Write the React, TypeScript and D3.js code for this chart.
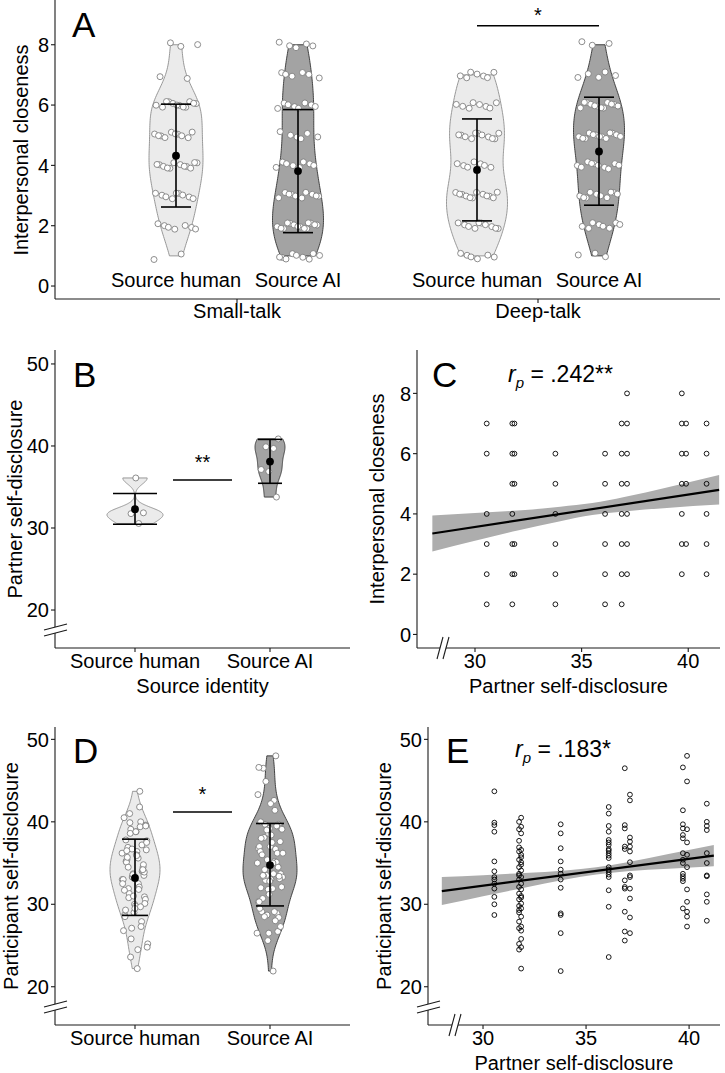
import React from "react";
import * as d3 from "d3";

const FONT = "'Liberation Sans', Arial, Helvetica, sans-serif";
const FS = 20;
const LIGHT_FILL = "#ebebeb";
const LIGHT_STROKE = "#8d8d8d";
const DARK_FILL = "#a3a3a3";
const DARK_STROKE = "#333333";
const POINT_STROKE = "#7a7a7a";

// ---- Panel A: interpersonal closeness (1-8), counts per level ----
const groups = ["Small-talk", "Deep-talk"];
const sources = ["Source human", "Source AI"];
const levels = [1, 2, 3, 4, 5, 6, 7, 8];
const smallHumanCounts = [2, 7, 9, 12, 10, 12, 2, 3];
const smallAICounts = [9, 14, 10, 8, 6, 8, 6, 5];
const deepHumanCounts = [6, 10, 12, 7, 11, 8, 7, 0];
const deepAICounts = [3, 8, 10, 10, 13, 12, 5, 3];
const aMeans = [4.32, 3.81, 3.85, 4.46];
const aLow = [2.62, 1.77, 2.16, 2.68];
const aHigh = [6.03, 5.85, 5.54, 6.26];
const aTicks = [0, 2, 4, 6, 8];
const aSigValue = 8.63;

// ---- Partners (B, C, E) ----
const partnerScores = [30.55, 31.75, 31.85, 33.77, 36.1, 36.88, 37.13, 39.7, 39.9, 40.86];
const partnerIsAI = [false, false, false, true, false, true, true, true, true, true];
const bMeans = [32.3, 38.1];
const bLow = [30.45, 35.45];
const bHigh = [34.2, 40.8];
const bSigValue = 35.85;
const sdTicks = [20, 30, 40, 50];

// ---- Panel C: closeness per partner ----
const closenessByPartner = [
  [7, 6, 4, 3, 2, 1],
  [7, 6, 5, 4, 3, 2, 1],
  [7, 6, 5, 3, 2],
  [6, 5, 4, 3, 2, 1],
  [6, 5, 4, 3, 2, 1],
  [7, 6, 5, 4, 3, 2, 1],
  [8, 7, 6, 5, 4, 3, 2],
  [8, 7, 6, 5, 4, 3, 2],
  [7, 6, 5, 3],
  [7, 6, 5, 4, 3, 2],
];
const cTicksY = [0, 2, 4, 6, 8];
const partnerTicks = [30, 35, 40];
const cBandX = [28, 30, 32, 34, 35.5, 37, 39, 41.45];
const cBandLo = [2.75, 3.11, 3.45, 3.76, 3.96, 4.08, 4.2, 4.31];
const cBandHi = [3.95, 4.03, 4.11, 4.24, 4.36, 4.56, 4.88, 5.29];
const cFitX = [28, 41.45];
const cFitY = [3.35, 4.8];

// ---- Panel E / D: participant self-disclosure per partner ----
const participantByPartner = [
  [43.7, 39.9, 39.6, 38.8, 35.2, 34.0, 33.3, 33.0, 32.5, 31.9, 30.9, 30.0, 28.7],
  [40.0, 39.1, 37.7, 36.4, 35.4, 34.5, 33.7, 33.0, 32.1, 31.3, 30.6, 29.8, 29.3, 27.9, 27.1, 25.2, 24.5, 36.9, 33.5, 29.0],
  [40.5, 39.4, 38.6, 36.6, 36.0, 35.1, 34.1, 33.3, 32.5, 31.8, 30.8, 30.1, 29.5, 28.5, 27.3, 25.8, 24.8, 22.2, 35.7, 34.8, 31.0, 26.8],
  [39.7, 38.6, 36.8, 35.2, 34.2, 33.7, 33.0, 32.0, 28.9, 28.7, 26.5, 21.9],
  [41.8, 41.0, 39.5, 38.8, 37.8, 37.2, 36.7, 36.2, 35.6, 34.5, 33.9, 33.3, 31.7, 29.7, 23.6, 37.5, 35.9, 36.5, 34.2, 33.6],
  [46.5, 39.6, 39.2, 37.0, 36.7, 32.9, 32.1, 31.9, 29.1, 26.7, 25.6],
  [43.3, 42.6, 38.1, 37.6, 37.0, 36.4, 35.1, 33.5, 33.3, 31.9, 30.7, 28.4, 26.5],
  [46.6, 41.4, 39.7, 39.2, 38.4, 38.0, 36.2, 35.4, 35.0, 33.7, 33.4, 33.1, 32.8, 29.5],
  [48.0, 44.9, 39.1, 37.5, 36.0, 34.5, 31.8, 30.3, 29.1, 28.5, 27.3],
  [42.2, 40.0, 39.5, 39.0, 36.2, 35.0, 33.5, 33.4, 31.2, 30.3, 28.0],
];
const dMeans = [33.2, 34.75];
const dLow = [28.65, 29.8];
const dHigh = [37.9, 39.8];
const dSigValue = 41.2;
const eBandX = [28, 30, 32, 34, 35.5, 37, 39, 41.2];
const eBandLo = [29.9, 30.97, 32.0, 33.0, 33.6, 34.0, 34.3, 34.6];
const eBandHi = [33.3, 33.53, 33.8, 34.1, 34.5, 35.1, 36.1, 37.2];
const eFitX = [28, 41.2];
const eFitY = [31.6, 35.9];

// deterministic jitter (layout only)
const jx = (i: number, seed: number) => ((i * 0.6180339887 + seed * 0.137) % 1) - 0.5;
const jy = (i: number, seed: number) => ((i * 0.7548776662 + seed * 0.291) % 1) - 0.5;

function bwNrd0(v: number[]) {
  const s = d3.deviation(v) ?? 1;
  const sorted = [...v].sort(d3.ascending);
  const iqr = (d3.quantileSorted(sorted, 0.75) as number) - (d3.quantileSorted(sorted, 0.25) as number);
  let lo = Math.min(s, iqr / 1.34);
  if (!(lo > 0)) lo = s || 1;
  return 0.9 * lo * Math.pow(v.length, -0.2);
}

function kde(v: number[], n = 120) {
  const bw = bwNrd0(v);
  const [lo, hi] = d3.extent(v) as [number, number];
  return d3.range(n + 1).map((i) => {
    const y = lo + ((hi - lo) * i) / n;
    const d =
      (d3.mean(v, (x) => Math.exp(-0.5 * ((y - x) / bw) ** 2)) as number) /
      (bw * Math.sqrt(2 * Math.PI));
    return { y, d };
  });
}

type Dens = { y: number; d: number };

// each violin scaled to its own maximum half-width
function violinPath(dens: Dens[], cx: number, y: d3.ScaleLinear<number, number>, half: number) {
  const w = d3.scaleLinear().domain([0, d3.max(dens, (p) => p.d) as number]).range([0, half]);
  return (
    d3
      .area<Dens>()
      .x0((p) => cx - w(p.d))
      .x1((p) => cx + w(p.d))
      .y((p) => y(p.y))(dens) || ""
  );
}

const txt = { fontFamily: FONT, fill: "#000" } as const;

function YAxis({ x, scale, ticks, top, bottom }: any) {
  return (
    <g>
      <line x1={x} x2={x} y1={top} y2={bottom} stroke="#1a1a1a" strokeWidth={1.1} />
      {ticks.map((t: number) => (
        <g key={t}>
          <line x1={x - 4} x2={x} y1={scale(t)} y2={scale(t)} stroke="#1a1a1a" strokeWidth={1.1} />
          <text x={x - 6} y={scale(t)} dy="0.36em" textAnchor="end" fontSize={FS} style={txt}>
            {t}
          </text>
        </g>
      ))}
    </g>
  );
}

function YBreak({ x, y }: { x: number; y: number }) {
  return (
    <g>
      <polygon points={`${x - 11},${y + 1} ${x + 12},${y - 5} ${x + 12},${y + 1} ${x - 11},${y + 7}`} fill="#fff" />
      <line x1={x - 11} y1={y + 1} x2={x + 12} y2={y - 5} stroke="#1a1a1a" strokeWidth={1.1} />
      <line x1={x - 11} y1={y + 7} x2={x + 12} y2={y + 1} stroke="#1a1a1a" strokeWidth={1.1} />
    </g>
  );
}

function XBreak({ x, y }: { x: number; y: number }) {
  return (
    <g>
      <polygon points={`${x - 6},${y + 11} ${x},${y - 11} ${x + 6},${y - 11} ${x},${y + 11}`} fill="#fff" />
      <line x1={x - 6} y1={y + 11} x2={x} y2={y - 11} stroke="#1a1a1a" strokeWidth={1.1} />
      <line x1={x} y1={y + 11} x2={x + 6} y2={y - 11} stroke="#1a1a1a" strokeWidth={1.1} />
    </g>
  );
}

function ErrorBar({ cx, lo, hi, mean, cap, y, r = 3.9 }: any) {
  return (
    <g>
      <line x1={cx} x2={cx} y1={y(lo)} y2={y(hi)} stroke="#000" strokeWidth={1.6} />
      <line x1={cx - cap} x2={cx + cap} y1={y(lo)} y2={y(lo)} stroke="#000" strokeWidth={1.6} />
      <line x1={cx - cap} x2={cx + cap} y1={y(hi)} y2={y(hi)} stroke="#000" strokeWidth={1.6} />
      <circle cx={cx} cy={y(mean)} r={r} fill="#000" />
    </g>
  );
}

function Letter({ x, y, children }: any) {
  return (
    <text x={x} y={y} fontSize={35} style={txt}>
      {children}
    </text>
  );
}

function RpLabel({ x, y, value }: any) {
  return (
    <text x={x} y={y} fontSize={23} style={txt}>
      <tspan fontStyle="italic">r</tspan>
      <tspan fontStyle="italic" fontSize={15} dy={6}>
        p
      </tspan>
      <tspan dy={-6}>{` = ${value}`}</tspan>
    </text>
  );
}

function PanelA() {
  const y = d3.scaleLinear().domain([-0.43, 9.45]).range([299, 1]);
  const groupX = d3.scalePoint<string>().domain(groups).range([237, 538]);
  const subX = d3.scalePoint<string>().domain(sources).range([-61, 61]);
  const halves = [27, 25.5, 30.5, 25.5];
  const countSets = [smallHumanCounts, smallAICounts, deepHumanCounts, deepAICounts];
  const violins = countSets.map((counts, k) => {
    const g = groups[Math.floor(k / 2)];
    const s = sources[k % 2];
    const values = levels.flatMap((lv, i) => d3.range(counts[i]).map(() => lv));
    return { k, g, s, cx: (groupX(g) as number) + (subX(s) as number), values, dens: kde(values) };
  });
  const xl = 55;
  const xr = 720;
  return (
    <g>
      {violins.map((v) => (
        <g key={v.k}>
          <path
            d={violinPath(v.dens, v.cx, y, halves[v.k])}
            fill={v.k % 2 ? DARK_FILL : LIGHT_FILL}
            stroke={v.k % 2 ? DARK_STROKE : LIGHT_STROKE}
            strokeWidth={0.9}
          />
          {v.values.map((val, i) => (
            <circle
              key={i}
              cx={v.cx + jx(i, v.k) * 44}
              cy={y(val + jy(i, v.k) * 0.24)}
              r={3}
              fill="#fff"
              stroke={POINT_STROKE}
              strokeWidth={0.85}
            />
          ))}
          <ErrorBar cx={v.cx} lo={aLow[v.k]} hi={aHigh[v.k]} mean={aMeans[v.k]} cap={15} y={y} />
          <text x={v.cx} y={y(0) + 1} textAnchor="middle" fontSize={FS} style={txt}>
            {v.s}
          </text>
        </g>
      ))}
      <YAxis x={xl} scale={y} ticks={aTicks} top={y.range()[1] - 1} bottom={y.range()[0]} />
      <line x1={xl} x2={xr} y1={299} y2={299} stroke="#1a1a1a" strokeWidth={1.1} />
      {groups.map((g) => (
        <g key={g}>
          <line x1={groupX(g)} x2={groupX(g)} y1={299} y2={303} stroke="#1a1a1a" strokeWidth={1.1} />
          <text x={groupX(g)} y={318} textAnchor="middle" fontSize={FS} style={txt}>
            {g}
          </text>
        </g>
      ))}
      <line x1={violins[2].cx} x2={violins[3].cx} y1={y(aSigValue)} y2={y(aSigValue)} stroke="#000" strokeWidth={1.6} />
      <text x={(violins[2].cx + violins[3].cx) / 2} y={y(aSigValue) - 4} textAnchor="middle" fontSize={FS} style={txt}>
        *
      </text>
      <text transform="translate(28,150) rotate(-90)" textAnchor="middle" fontSize={FS} style={txt}>
        Interpersonal closeness
      </text>
      <Letter x={72} y={37}>A</Letter>
    </g>
  );
}

function ViolinPair({ sets, y, halves, means, lows, highs, caps, jitterW, sig, top, bottom, xTitle, yTitle, titleX }: any) {
  const x = d3.scalePoint<string>().domain(sources).range([135, 270]);
  const dens = sets.map((s: number[]) => kde(s));
  const xl = 55;
  const xr = 350;
  const mid = ((x(sources[0]) as number) + (x(sources[1]) as number)) / 2;
  return (
    <g>
      {sources.map((s, k) => {
        const cx = x(s) as number;
        return (
          <g key={s}>
            <path
              d={violinPath(dens[k], cx, y, halves[k])}
              fill={k ? DARK_FILL : LIGHT_FILL}
              stroke={k ? DARK_STROKE : LIGHT_STROKE}
              strokeWidth={0.9}
            />
            {sets[k].map((val: number, i: number) => (
              <circle
                key={i}
                cx={cx + jx(i, k + 5) * jitterW}
                cy={y(val)}
                r={3}
                fill="#fff"
                stroke={POINT_STROKE}
                strokeWidth={0.85}
              />
            ))}
            <ErrorBar cx={cx} lo={lows[k]} hi={highs[k]} mean={means[k]} cap={caps[k]} y={y} />
          </g>
        );
      })}
      <line x1={mid - 29.5} x2={mid + 29.5} y1={y(sig.value)} y2={y(sig.value)} stroke="#000" strokeWidth={1.6} />
      <text x={mid} y={y(sig.value) - 11} textAnchor="middle" fontSize={FS} style={txt}>
        {sig.label}
      </text>
      <YAxis x={xl} scale={y} ticks={sdTicks} top={top} bottom={bottom} />
      <YBreak x={xl} y={bottom - 19} />
      <line x1={xl} x2={xr} y1={bottom} y2={bottom} stroke="#1a1a1a" strokeWidth={1.1} />
      {sources.map((s) => (
        <g key={s}>
          <line x1={x(s)} x2={x(s)} y1={bottom} y2={bottom + 4} stroke="#1a1a1a" strokeWidth={1.1} />
          <text x={x(s)} y={bottom + 20} textAnchor="middle" fontSize={FS} style={txt}>
            {s}
          </text>
        </g>
      ))}
      {xTitle && (
        <text x={(xl + xr) / 2} y={bottom + 45} textAnchor="middle" fontSize={FS} style={txt}>
          {xTitle}
        </text>
      )}
      <text transform={`translate(${titleX},${(top + bottom) / 2}) rotate(-90)`} textAnchor="middle" fontSize={FS} style={txt}>
        {yTitle}
      </text>
    </g>
  );
}

function Scatter({ x, y, valuesBy, bandX, bandLo, bandHi, fitX, fitY, xl, xr, top, bottom, yTicks, yTitle, titleX, breakX, yBreak }: any) {
  const band = d3
    .area<number>()
    .x((_, i) => x(bandX[i]))
    .y0((_, i) => y(bandLo[i]))
    .y1((_, i) => y(bandHi[i]))
    .curve(d3.curveMonotoneX)(bandX);
  const fit = d3
    .line<number>()
    .x((_, i) => x(fitX[i]))
    .y((_, i) => y(fitY[i]))(fitX);
  return (
    <g>
      <path d={band || ""} fill="#adadad" />
      {valuesBy.map((vals: number[], p: number) =>
        vals.map((v: number, i: number) => (
          <circle key={`${p}-${i}`} cx={x(partnerScores[p])} cy={y(v)} r={2.4} fill="none" stroke="#000" strokeWidth={0.9} />
        ))
      )}
      <path d={fit || ""} fill="none" stroke="#000" strokeWidth={2.2} />
      <YAxis x={xl} scale={y} ticks={yTicks} top={top} bottom={bottom} />
      {yBreak && <YBreak x={xl} y={bottom - 19} />}
      <line x1={xl} x2={xr} y1={bottom} y2={bottom} stroke="#1a1a1a" strokeWidth={1.1} />
      {partnerTicks.map((t) => (
        <g key={t}>
          <line x1={x(t)} x2={x(t)} y1={bottom} y2={bottom + 4} stroke="#1a1a1a" strokeWidth={1.1} />
          <text x={x(t)} y={bottom + 20} textAnchor="middle" fontSize={FS} style={txt}>
            {t}
          </text>
        </g>
      ))}
      <XBreak x={breakX} y={bottom} />
      <text x={(xl + xr) / 2} y={bottom + 45} textAnchor="middle" fontSize={FS} style={txt}>
        Partner self-disclosure
      </text>
      <text transform={`translate(${titleX},${(top + bottom) / 2}) rotate(-90)`} textAnchor="middle" fontSize={FS} style={txt}>
        {yTitle}
      </text>
    </g>
  );
}

export default function App() {
  const bHumanSet = partnerScores.filter((_, i) => !partnerIsAI[i]);
  const bAISet = partnerScores.filter((_, i) => partnerIsAI[i]);
  const dHumanSet = participantByPartner.filter((_, i) => !partnerIsAI[i]).flat();
  const dAISet = participantByPartner.filter((_, i) => partnerIsAI[i]).flat();

  const yB = d3.scaleLinear().domain([15.37, 51.7]).range([648, 350]);
  const yD = d3.scaleLinear().domain([15.36, 51.5]).range([1025, 727]);
  const xC = d3.scaleLinear().domain([27.28, 41.49]).range([417, 720]);
  const yC = d3.scaleLinear().domain([-0.45, 9.44]).range([648, 350]);
  const xE = d3.scaleLinear().domain([27.33, 41.5]).range([428, 720]);
  const yE = d3.scaleLinear().domain([15.36, 51.5]).range([1025, 727]);

  return (
    <svg
      width={725}
      height={1073}
      viewBox="0 0 725 1073"
      style={{ position: "absolute", left: 0, top: 0, background: "#fff" }}
    >
      <rect width={725} height={1073} fill="#fff" />
      <PanelA />

      <ViolinPair
        sets={[bHumanSet, bAISet]}
        y={yB}
        halves={[28, 15]}
        means={bMeans}
        lows={bLow}
        highs={bHigh}
        caps={[22, 12]}
        jitterW={20}
        sig={{ value: bSigValue, label: "**" }}
        top={350}
        bottom={648}
        xTitle="Source identity"
        yTitle="Partner self-disclosure"
        titleX={22}
      />
      <Letter x={73} y={387}>B</Letter>

      <Scatter
        x={xC}
        y={yC}
        valuesBy={closenessByPartner}
        bandX={cBandX}
        bandLo={cBandLo}
        bandHi={cBandHi}
        fitX={cFitX}
        fitY={cFitY}
        xl={417}
        xr={720}
        top={350}
        bottom={648}
        yTicks={cTicksY}
        yTitle="Interpersonal closeness"
        titleX={384}
        breakX={443}
        yBreak={false}
      />
      <Letter x={432} y={387}>C</Letter>
      <RpLabel x={508} y={382} value=".242**" />

      <ViolinPair
        sets={[dHumanSet, dAISet]}
        y={yD}
        halves={[25, 27]}
        means={dMeans}
        lows={dLow}
        highs={dHigh}
        caps={[13, 14]}
        jitterW={26}
        sig={{ value: dSigValue, label: "*" }}
        top={727}
        bottom={1025}
        xTitle={null}
        yTitle="Participant self-disclosure"
        titleX={18}
      />
      <Letter x={73} y={763}>D</Letter>

      <Scatter
        x={xE}
        y={yE}
        valuesBy={participantByPartner}
        bandX={eBandX}
        bandLo={eBandLo}
        bandHi={eBandHi}
        fitX={eFitX}
        fitY={eFitY}
        xl={428}
        xr={720}
        top={727}
        bottom={1025}
        yTicks={sdTicks}
        yTitle="Participant self-disclosure"
        titleX={391}
        breakX={455}
        yBreak={true}
      />
      <Letter x={446} y={763}>E</Letter>
      <RpLabel x={515} y={757} value=".183*" />
    </svg>
  );
}
